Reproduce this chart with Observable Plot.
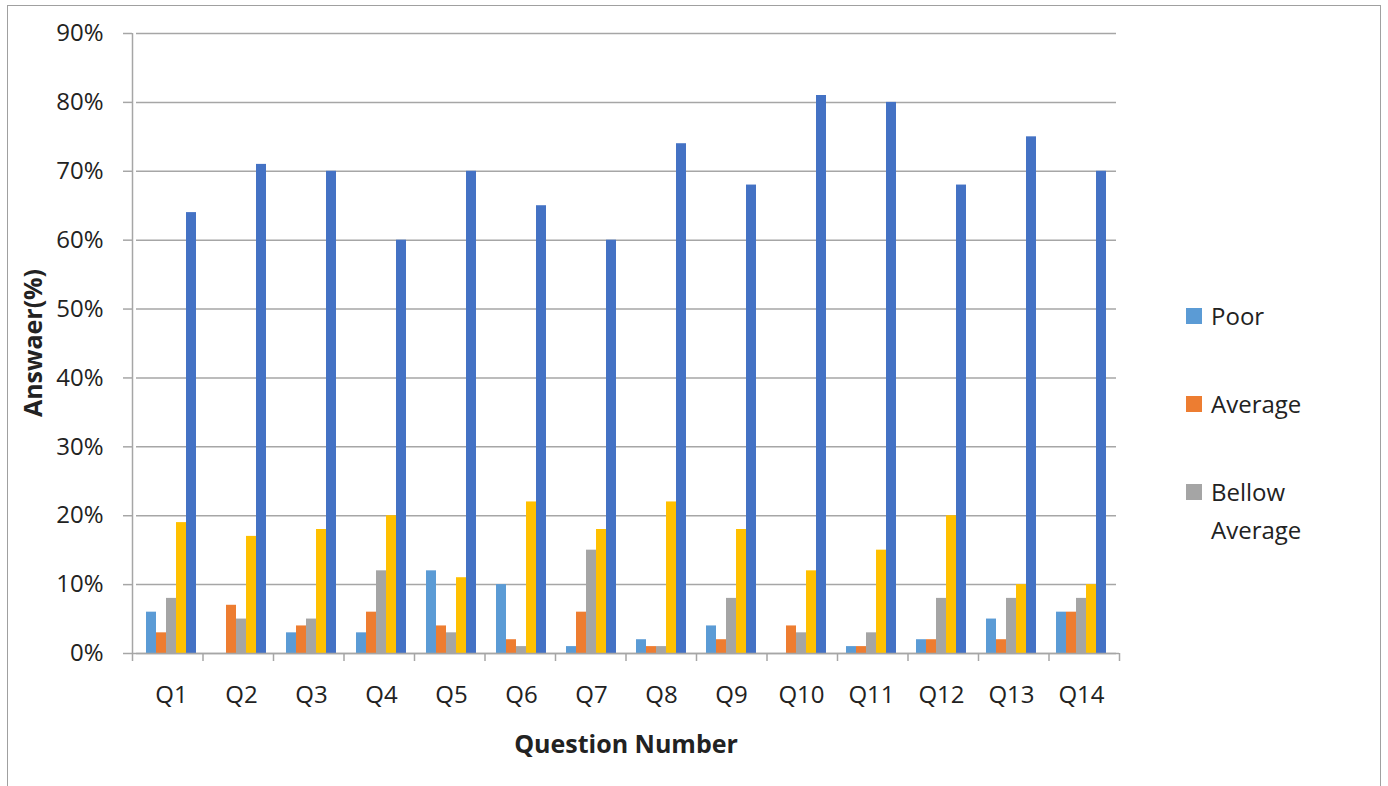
<!DOCTYPE html>
<html>
<head>
<meta charset="utf-8">
<script src="https://cdn.jsdelivr.net/npm/d3@7"></script>
<script src="https://cdn.jsdelivr.net/npm/@observablehq/plot@0.6"></script>
<style>
  html, body { margin: 0; padding: 0; background: #fff; }
  #wrap { position: relative; width: 1388px; height: 786px; overflow: hidden; font-family: "Open Sans", sans-serif; color: #222; }
  #border { position: absolute; left: 7px; top: 5px; width: 1374px; height: 800px; border: 1.5px solid #a0a0a0; box-sizing: border-box; }
  .layer { position: absolute; left: 0; top: 0; }
  #ytitle { position: absolute; left: 32px; top: 343px; transform: translate(-50%, -50%) rotate(-90deg); font-weight: 700; font-size: 25px; white-space: nowrap; }
  #xtitle { position: absolute; left: 626px; top: 743px; transform: translate(-50%, -50%); font-weight: 700; font-size: 25px; white-space: nowrap; }
  #legend { position: absolute; left: 1186px; top: 0; }
  .lg { position: absolute; left: 0; display: flex; align-items: flex-start; font-size: 24px; line-height: 38px; white-space: nowrap; }
  .sw { width: 16px; height: 16px; margin-right: 9px; margin-top: 11px; flex: none; }
</style>
</head>
<body>
<div id="wrap">
  <div id="border"></div>
  <div id="main" class="layer"></div>
  <div id="over" class="layer"></div>
  <div id="ytitle">Answaer(%)</div>
  <div id="xtitle">Question Number</div>
  <div id="legend"></div>
</div>
<script>
// ---- data ----
const questions = ["Q1","Q2","Q3","Q4","Q5","Q6","Q7","Q8","Q9","Q10","Q11","Q12","Q13","Q14"];
const seriesNames = ["Poor","Average","Bellow Average","Good","Excellent"];
const poor      = [6, 0, 3, 3, 12, 10, 1, 2, 4, 0, 1, 2, 5, 6];
const average   = [3, 7, 4, 6, 4, 2, 6, 1, 2, 4, 1, 2, 2, 6];
const bellowAvg = [8, 5, 5, 12, 3, 1, 15, 1, 8, 3, 3, 8, 8, 8];
const good      = [19, 17, 18, 20, 11, 22, 18, 22, 18, 12, 15, 20, 10, 10];
const excellent = [64, 71, 70, 60, 70, 65, 60, 74, 68, 81, 80, 68, 75, 70];
const yTicks = [0, 10, 20, 30, 40, 50, 60, 70, 80, 90];
const legendShown = ["Poor","Average","Bellow Average"];
const colors = ["#5B9BD5","#ED7D31","#A5A5A5","#FFC000","#4472C4"];

const seriesValues = [poor, average, bellowAvg, good, excellent];
const rows = [];
questions.forEach((q, i) => {
  seriesNames.forEach((s, j) => rows.push({q, s, v: seriesValues[j][i]}));
});

const W = 1388, H = 786;
const M = {marginLeft: 132, marginRight: 269, marginTop: 33, marginBottom: 133};
const gridColor = "#a6a6a6";
const font = "'Open Sans', sans-serif";

const main = Plot.plot({
  width: W, height: H, ...M,
  style: {fontFamily: font, background: "transparent", overflow: "visible", color: "#222"},
  fx: {domain: questions, padding: 0, label: null},
  x: {domain: seriesNames, paddingInner: 0, paddingOuter: 0.85, axis: null},
  y: {domain: [0, 90], axis: null},
  color: {domain: seriesNames, range: colors},
  marks: [
    Plot.gridY(yTicks, {stroke: gridColor, strokeOpacity: 1, strokeWidth: 1.5}),
    Plot.barY(rows, {fx: "q", x: "s", y: "v", fill: "s"}),
    Plot.axisFx({anchor: "bottom", tickSize: 0, tickPadding: 32, fontSize: 24, label: null})
  ]
});
document.getElementById("main").appendChild(main);

const over = Plot.plot({
  width: W, height: H, ...M,
  style: {fontFamily: font, background: "transparent", overflow: "visible", color: "#222"},
  x: {domain: [0, questions.length]},
  y: {domain: [0, 90]},
  marks: [
    Plot.ruleX([0], {stroke: gridColor, strokeWidth: 1.5}),
    Plot.ruleY([0], {stroke: gridColor, strokeWidth: 1.5}),
    Plot.axisX(d3.range(questions.length + 1), {tickSize: 8, stroke: gridColor, strokeWidth: 1.5, tickFormat: () => "", label: null}),
    Plot.axisY(yTicks, {tickSize: 9, tickPadding: 20, stroke: gridColor, strokeWidth: 1.5, fontSize: 24, tickFormat: d => d + "%", label: null})
  ]
});
document.getElementById("over").appendChild(over);

// legend (only the entries visible in the reference)
const lg = document.getElementById("legend");
const legendTops = [297, 385, 473];
legendShown.forEach((name, i) => {
  const el = document.createElement("div");
  el.className = "lg";
  el.style.top = legendTops[i] + "px";
  const sw = document.createElement("div");
  sw.className = "sw";
  sw.style.background = colors[seriesNames.indexOf(name)];
  const tx = document.createElement("div");
  tx.innerHTML = name.replace(" ", "<br>");
  if (name === "Bellow Average") tx.innerHTML = "Bellow<br>Average";
  else tx.textContent = name;
  el.appendChild(sw); el.appendChild(tx);
  lg.appendChild(el);
});
</script>
</body>
</html>
